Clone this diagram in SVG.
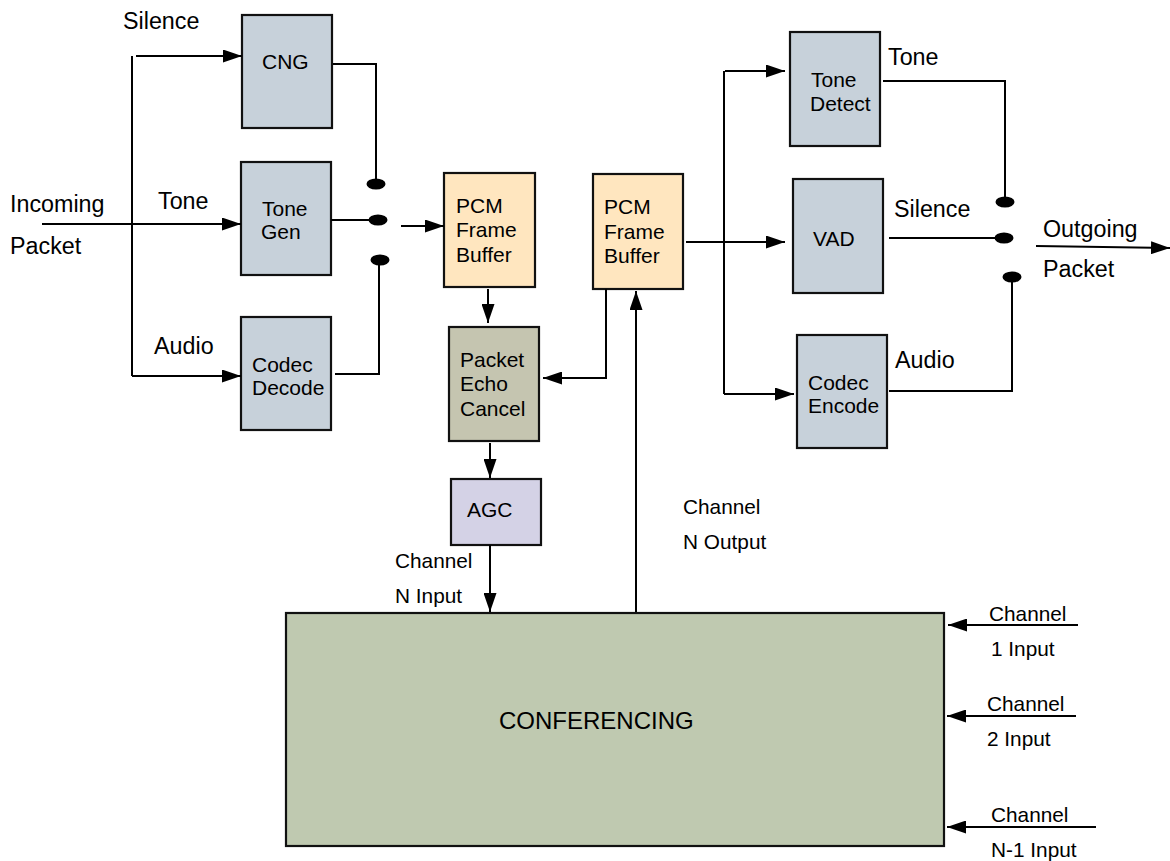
<svg xmlns="http://www.w3.org/2000/svg" width="1170" height="861" viewBox="0 0 1170 861">
  <defs>
    <marker id="arrow" viewBox="0 0 19 13" refX="19" refY="6.5" markerWidth="19" markerHeight="13" markerUnits="userSpaceOnUse" orient="auto">
      <path d="M0,0 L19,6.5 L0,13 Z" fill="#000"/>
    </marker>
    <style>
      .box { stroke: #111; stroke-width: 2.2; }
      .blk { fill: #C7D1DA; }
      .pcm { fill: #FFE6BF; }
      .pec { fill: #C5C5B0; }
      .agc { fill: #D4D2E6; }
      .conf { fill: #BFC9B0; }
      .wire { fill: none; stroke: #000; stroke-width: 2; }
      .arr { fill: none; stroke: #000; stroke-width: 2; marker-end: url(#arrow); }
      .dot { fill: #000; }
      text { font-family: "Liberation Sans", Arial, sans-serif; fill: #000; }
      .lbl { font-size: 23.3px; }
      .in { font-size: 21px; }
      .sm { font-size: 20.8px; }
    </style>
  </defs>

  <!-- decoder side -->
  <g id="cng">
    <rect class="box blk" x="242" y="15" width="90" height="113"/>
    <text class="in" x="262" y="69">CNG</text>
  </g>
  <g id="tone-gen">
    <rect class="box blk" x="241" y="162" width="90" height="113"/>
    <text class="in" x="262" y="216">Tone</text>
    <text class="in" x="261" y="239">Gen</text>
  </g>
  <g id="codec-decode">
    <rect class="box blk" x="241" y="317" width="90" height="113"/>
    <text class="in" x="252" y="372">Codec</text>
    <text class="in" x="252" y="395">Decode</text>
  </g>
  <g id="pcm-in">
    <rect class="box pcm" x="444" y="173" width="91" height="114"/>
    <text class="in" x="456" y="213">PCM</text>
    <text class="in" x="456" y="237">Frame</text>
    <text class="in" x="456" y="262">Buffer</text>
  </g>
  <g id="echo-cancel">
    <rect class="box pec" x="449" y="327" width="90" height="114"/>
    <text class="in" x="460" y="367">Packet</text>
    <text class="in" x="460" y="391">Echo</text>
    <text class="in" x="460" y="416">Cancel</text>
  </g>
  <g id="agc">
    <rect class="box agc" x="451" y="479" width="90" height="66"/>
    <text class="in" x="467" y="517">AGC</text>
  </g>

  <!-- encoder side -->
  <g id="pcm-out">
    <rect class="box pcm" x="593" y="174" width="90" height="115"/>
    <text class="in" x="604" y="214">PCM</text>
    <text class="in" x="604" y="239">Frame</text>
    <text class="in" x="604" y="263">Buffer</text>
  </g>
  <g id="tone-detect">
    <rect class="box blk" x="790" y="32" width="90" height="114"/>
    <text class="in" x="811" y="87">Tone</text>
    <text class="in" x="810" y="111">Detect</text>
  </g>
  <g id="vad">
    <rect class="box blk" x="793" y="179" width="90" height="114"/>
    <text class="in" x="813" y="246">VAD</text>
  </g>
  <g id="codec-encode">
    <rect class="box blk" x="797" y="335" width="90" height="113"/>
    <text class="in" x="808" y="390">Codec</text>
    <text class="in" x="808" y="413">Encode</text>
  </g>

  <g id="conferencing">
    <rect class="box conf" x="286" y="613" width="658" height="233"/>
    <text x="499" y="729" style="font-size:24px">CONFERENCING</text>
  </g>

  <!-- connectors -->
  <g id="connectors">
    <!-- incoming packet fan-out -->
    <line class="wire" x1="132" y1="56" x2="132" y2="376"/>
    <line class="arr" x1="136" y1="56" x2="242" y2="56"/>
    <line class="arr" x1="42" y1="224" x2="241" y2="224"/>
    <line class="arr" x1="132" y1="376" x2="241" y2="376"/>

    <!-- decoder selector switch -->
    <polyline class="wire" points="333,64 376,64 376,180"/>
    <line class="wire" x1="331" y1="220" x2="372" y2="220"/>
    <polyline class="wire" points="335,374 379,374 379,262"/>
    <ellipse class="dot" cx="376" cy="184" rx="9.5" ry="5.5"/>
    <ellipse class="dot" cx="378" cy="220" rx="9.5" ry="5.5"/>
    <ellipse class="dot" cx="380" cy="260" rx="9.5" ry="5.5"/>
    <line class="arr" x1="401" y1="226" x2="444" y2="226"/>

    <!-- decode chain -->
    <line class="arr" x1="488" y1="289" x2="488" y2="323"/>
    <line class="arr" x1="490" y1="443" x2="490" y2="478"/>
    <line class="arr" x1="490" y1="545" x2="490" y2="612"/>
    <polyline class="arr" points="606,289 606,378 543,378"/>
    <line class="arr" x1="636" y1="612" x2="636" y2="291"/>

    <!-- encoder fan-out -->
    <line class="arr" x1="686" y1="242" x2="785" y2="242"/>
    <line class="wire" x1="724" y1="71" x2="724" y2="394"/>
    <line class="arr" x1="725" y1="71" x2="785" y2="71"/>
    <line class="arr" x1="724" y1="394" x2="794" y2="394"/>

    <!-- encoder selector switch -->
    <polyline class="wire" points="883,81 1005,81 1005,197"/>
    <line class="wire" x1="889" y1="238" x2="1000" y2="238"/>
    <polyline class="wire" points="889,391 1012,391 1012,281"/>
    <ellipse class="dot" cx="1005" cy="202" rx="9.5" ry="5.5"/>
    <ellipse class="dot" cx="1004" cy="238" rx="9.5" ry="5.5"/>
    <ellipse class="dot" cx="1012" cy="277" rx="9.5" ry="5.5"/>
    <line class="arr" x1="1036" y1="246" x2="1170" y2="248"/>

    <!-- other channel inputs -->
    <line class="arr" x1="1078" y1="625" x2="948" y2="625"/>
    <line class="arr" x1="1076" y1="716" x2="947" y2="716"/>
    <line class="arr" x1="1096" y1="827" x2="947" y2="827"/>
  </g>

  <!-- flow labels -->
  <g id="labels">
    <text class="lbl" x="123" y="29">Silence</text>
    <text class="lbl" x="10" y="212">Incoming</text>
    <text class="lbl" x="10" y="254">Packet</text>
    <text class="lbl" x="158" y="209">Tone</text>
    <text class="lbl" x="154" y="354">Audio</text>
    <text class="lbl" x="888" y="65">Tone</text>
    <text class="lbl" x="894" y="217">Silence</text>
    <text class="lbl" x="1043" y="237">Outgoing</text>
    <text class="lbl" x="1043" y="277">Packet</text>
    <text class="lbl" x="895" y="368">Audio</text>
    <text class="sm" x="395" y="568">Channel</text>
    <text class="sm" x="395" y="603">N Input</text>
    <text class="sm" x="683" y="514">Channel</text>
    <text class="sm" x="683" y="549">N Output</text>
    <text class="sm" x="989" y="621">Channel</text>
    <text class="sm" x="991" y="656">1 Input</text>
    <text class="sm" x="987" y="711">Channel</text>
    <text class="sm" x="987" y="746">2 Input</text>
    <text class="sm" x="991" y="822">Channel</text>
    <text class="sm" x="991" y="857">N-1 Input</text>
  </g>
</svg>
